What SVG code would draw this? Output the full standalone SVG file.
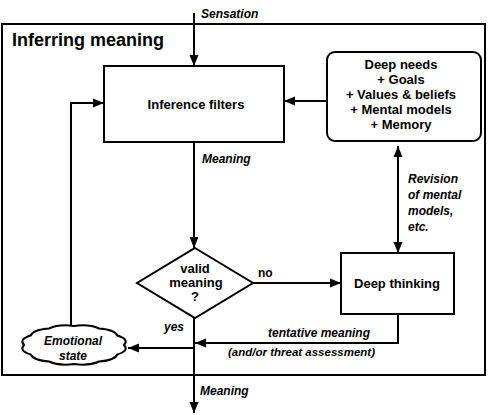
<svg xmlns="http://www.w3.org/2000/svg" width="488" height="415" viewBox="0 0 488 415">
<style>
  text { font-family: "Liberation Sans", Arial, sans-serif; font-weight: bold; fill: #000; }
  .node { font-size: 13px; text-anchor: middle; }
  .lbl { font-size: 12px; font-style: italic; }
  .box { fill: #fff; stroke: #000; stroke-width: 2; }
  .conn { fill: none; stroke: #000; stroke-width: 2; }
</style>
<defs>
  <marker id="arr" markerUnits="userSpaceOnUse" markerWidth="11" markerHeight="10" refX="11" refY="5" orient="auto-start-reverse">
    <path d="M0,0.5 L11,5 L0,9.5 z" fill="#000"/>
  </marker>
</defs>
<rect width="488" height="415" fill="#fff"/>
<g id="frame">
  <rect x="2" y="24" width="483" height="351" fill="none" stroke="#000" stroke-width="2"/>
  <text x="12" y="46" style="font-size:18px">Inferring meaning</text>
</g>
<g id="connectors" class="conn">
  <path class="conn" d="M194,13 V66" marker-end="url(#arr)"/>
  <path class="conn" d="M194,142 V248" marker-end="url(#arr)"/>
  <path class="conn" d="M194,318 V413" marker-end="url(#arr)"/>
  <path class="conn" d="M253,283 H341" marker-end="url(#arr)"/>
  <path class="conn" d="M327,101 H284" marker-end="url(#arr)"/>
  <path class="conn" d="M398,146 V253" marker-start="url(#arr)" marker-end="url(#arr)"/>
  <path class="conn" d="M398,314 V343 H195" marker-end="url(#arr)"/>
  <path class="conn" d="M194,348 H128" marker-end="url(#arr)"/>
  <path class="conn" d="M71,326 V103 H104" marker-end="url(#arr)"/>
</g>
<g id="labels">
  <text class="lbl" x="201" y="18">Sensation</text>
  <text class="lbl" x="202" y="163">Meaning</text>
  <text x="258" y="277" style="font-size:12px">no</text>
  <text class="lbl" x="164" y="331">yes</text>
  <text class="lbl" x="408" y="183">Revision</text>
  <text class="lbl" x="408" y="199">of mental</text>
  <text class="lbl" x="408" y="215">models,</text>
  <text class="lbl" x="408" y="231">etc.</text>
  <text class="lbl" x="268" y="337">tentative meaning</text>
  <text class="lbl" x="228" y="356" style="font-size:11.5px">(and/or threat assessment)</text>
  <text class="lbl" x="200" y="395">Meaning</text>
</g>
<g id="inference-filters">
  <rect class="box" x="104" y="66" width="180" height="76"/>
  <text class="node" x="196" y="109">Inference filters</text>
</g>
<g id="deep-needs">
  <rect class="box" x="327" y="52" width="154" height="89" rx="8"/>
  <text class="node" x="401" y="69">Deep needs</text>
  <text class="node" x="401" y="84">+ Goals</text>
  <text class="node" x="401" y="99">+ Values &amp; beliefs</text>
  <text class="node" x="401" y="114">+ Mental models</text>
  <text class="node" x="401" y="129">+ Memory</text>
</g>
<g id="valid-meaning">
  <path class="box" d="M195,248 L253,283 L195,318 L137,283 Z"/>
  <text class="node" x="195" y="273">valid</text>
  <text class="node" x="196" y="287">meaning</text>
  <text class="node" x="195" y="301">?</text>
</g>
<g id="deep-thinking">
  <rect class="box" x="341" y="253" width="113" height="61"/>
  <text class="node" x="397" y="288">Deep thinking</text>
</g>
<g id="emotional-state">
  <path class="box" d="M124,345 Q129.5,350.7 117.3,354.5 Q114.7,360.4 99,361.5 Q88.9,366.1 74,364 Q59.1,366.1 49,361.5 Q33.3,360.4 30.7,354.5 Q18.5,350.7 24,345 Q18.5,339.3 30.7,335.5 Q33.3,329.6 49,328.5 Q59.1,323.9 74,326 Q88.9,323.9 99,328.5 Q114.7,329.6 117.3,335.5 Q129.5,339.3 124,345 Z"/>
  <text class="lbl" x="73" y="345" text-anchor="middle">Emotional</text>
  <text class="lbl" x="73" y="360" text-anchor="middle">state</text>
</g>
</svg>
